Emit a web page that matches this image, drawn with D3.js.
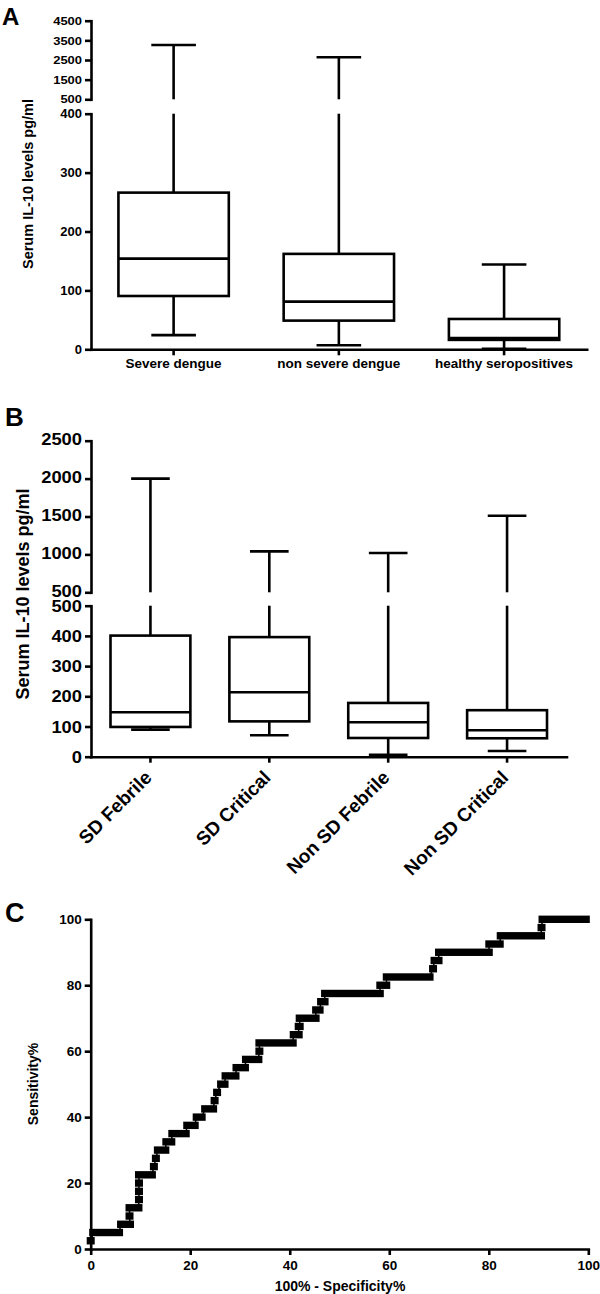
<!DOCTYPE html>
<html><head><meta charset="utf-8">
<script src="https://cdn.jsdelivr.net/npm/d3@7"></script>
<style>body{margin:0;background:#fff}svg{display:block;font-family:"Liberation Sans",Arial,sans-serif}</style>
</head><body><svg id="c" width="600" height="1294"></svg>
<script>
// ---------- Panel A data ----------
const catsA = ["Severe dengue", "non severe dengue", "healthy seropositives"];
const minA = [24, 7, 1];
const q1A = [90.5, 48.7, 16];
const medA = [154, 81, 19];
const q3A = [266, 162, 51.5];
const maxA = [3260, 2640, 144];
const ticksALow = [0, 100, 200, 300, 400];
const ticksAHigh = [500, 1500, 2500, 3500, 4500];

// ---------- Panel B data ----------
const catsB = ["SD Febrile", "SD Critical", "Non SD Febrile", "Non SD Critical"];
const minB = [89.5, 71, 6, 19];
const q1B = [98.5, 117, 62, 61];
const medB = [147, 213.5, 114, 87.5];
const q3B = [401, 396, 178, 154];
const maxB = [2000, 1040, 1018, 1509];
const ticksBLow = [0, 100, 200, 300, 400, 500];
const ticksBHigh = [500, 1000, 1500, 2000, 2500];

// ---------- Panel C data (ROC) ----------
const rocSens = [2.5,5,7.5,10,12.5,15,17.5,20,22.5,25,27.5,30,32.5,35,37.5,40,42.5,45,47.5,50,52.5,55,57.5,60,62.5,65,67.5,70,72.5,75,77.5,80,82.5,85,87.5,90,92.5,95,97.5,100];
const rocFprFrom = [0,0.5,6.1,7.8,7.8,9.7,9.7,9.7,9.7,12.7,13.1,13.5,15.2,16.4,19.4,21.3,23,24.9,25.4,26.2,27.1,29.3,31.2,33.9,33.9,40.8,41.8,42,45.3,46.3,47.1,58.2,59.5,68.8,69.1,70,80.1,82.4,90.6,90.8];
const rocFprTo = [0,5.7,7.9,7.8,9.6,9.7,9.7,9.7,12.3,12.7,13.1,15,16.2,19.1,20.9,22.3,24.6,24.9,25.4,26.9,29.1,31,33.7,33.9,40.6,41.8,42,45.2,46,47,58.1,59.4,68.1,68.8,69.9,80,82.2,90.5,90.6,99.5];
const ticksC = [0, 20, 40, 60, 80, 100];

const svg = d3.select("#c");
const LW = 2.6;

function styleAxis(g, fontSize, charW, dyShift) {
  g.selectAll(".domain").attr("stroke", "#000").attr("stroke-width", LW).attr("stroke-linecap", "square");
  g.selectAll(".tick line").attr("stroke", "#000").attr("stroke-width", LW);
  const t = g.selectAll(".tick text").attr("fill", "#000").attr("font-weight", "bold").attr("font-size", fontSize + "px").attr("font-family", "Liberation Sans, Arial, sans-serif");
  if (charW) t.attr("textLength", function () { return this.textContent.length * charW; }).attr("lengthAdjust", "spacingAndGlyphs");
  if (dyShift) t.attr("y", dyShift);
}

function boxPanel(cfg) {
  const g = svg.append("g");
  const x = d3.scaleBand().domain(cfg.cats).range(cfg.xRange).padding(0);
  const yLow = d3.scaleLinear().domain([0, cfg.lowMax]).range(cfg.lowRange);
  const yHigh = d3.scaleLinear().domain([cfg.highMin, cfg.highMax]).range(cfg.highRange);
  const y = v => v <= cfg.lowMax ? yLow(v) : yHigh(v);

  // axes
  const axL = g.append("g").attr("transform", `translate(${cfg.xRange[0]},0)`)
    .call(d3.axisLeft(yLow).tickValues(cfg.ticksLow).tickFormat(d3.format("d")).tickSize(6).tickSizeOuter(0).tickPadding(3));
  styleAxis(axL, cfg.tickFont, cfg.charW, cfg.lowShift);
  const axH = g.append("g").attr("transform", `translate(${cfg.xRange[0]},0)`)
    .call(d3.axisLeft(yHigh).tickValues(cfg.ticksHigh).tickFormat(d3.format("d")).tickSize(6).tickSizeOuter(0).tickPadding(3));
  styleAxis(axH, cfg.tickFontHigh || cfg.tickFont, cfg.charWHigh || cfg.charW, cfg.highShift);
  const axX = g.append("g").attr("transform", `translate(0,${cfg.lowRange[0]})`)
    .call(d3.axisBottom(x).tickSize(6).tickSizeOuter(0).tickFormat(""));
  styleAxis(axX, cfg.tickFont);

  // category labels
  if (cfg.rotate) {
    g.selectAll("text.cat").data(cfg.cats).join("text").attr("class", "cat")
      .attr("transform", d => `translate(${x(d) + x.bandwidth() / 2 + cfg.labDx},${cfg.lowRange[0] + cfg.labDy}) rotate(-45)`)
      .attr("text-anchor", "end").attr("font-weight", "bold").attr("font-size", cfg.catFont + "px").text(d => d);
  } else {
    g.selectAll("text.cat").data(cfg.cats).join("text").attr("class", "cat")
      .attr("x", d => x(d) + x.bandwidth() / 2).attr("y", cfg.lowRange[0] + cfg.labDy)
      .attr("text-anchor", "middle").attr("font-weight", "bold").attr("font-size", cfg.catFont + "px").text(d => d);
  }

  // boxes
  const bw = x.bandwidth() * cfg.boxFrac, cw = x.bandwidth() * cfg.capFrac;
  cfg.cats.forEach((c, i) => {
    const cx = x(c) + x.bandwidth() / 2;
    const bg = g.append("g").attr("stroke", "#000").attr("stroke-width", LW).attr("fill", "none");
    if (cfg.maxs[i] > cfg.lowMax) {
      bg.append("line").attr("x1", cx).attr("x2", cx).attr("y1", y(cfg.q3s[i])).attr("y2", yLow(cfg.lowMax));
      bg.append("line").attr("x1", cx).attr("x2", cx).attr("y1", yHigh(cfg.highMin)).attr("y2", y(cfg.maxs[i]));
    } else {
      bg.append("line").attr("x1", cx).attr("x2", cx).attr("y1", y(cfg.q3s[i])).attr("y2", y(cfg.maxs[i]));
    }
    bg.append("line").attr("x1", cx - cw / 2).attr("x2", cx + cw / 2).attr("y1", y(cfg.maxs[i])).attr("y2", y(cfg.maxs[i]));
    bg.append("line").attr("x1", cx).attr("x2", cx).attr("y1", y(cfg.q1s[i])).attr("y2", y(cfg.mins[i]));
    bg.append("line").attr("x1", cx - cw / 2).attr("x2", cx + cw / 2).attr("y1", y(cfg.mins[i])).attr("y2", y(cfg.mins[i]));
    bg.append("rect").attr("x", cx - bw / 2).attr("width", bw)
      .attr("y", y(cfg.q3s[i])).attr("height", y(cfg.q1s[i]) - y(cfg.q3s[i])).attr("fill", "#fff");
    bg.append("line").attr("x1", cx - bw / 2).attr("x2", cx + bw / 2).attr("y1", y(cfg.meds[i])).attr("y2", y(cfg.meds[i]));
  });

  g.append("text").attr("transform", `translate(${cfg.ylabX},${cfg.ylabY}) rotate(-90)`)
    .attr("text-anchor", "middle").attr("dy", "0.35em").attr("font-weight", "bold").attr("font-size", cfg.ylabFont + "px")
    .text("Serum IL-10 levels pg/ml");
}

// Panel A
boxPanel({
  cats: catsA, mins: minA, q1s: q1A, meds: medA, q3s: q3A, maxs: maxA,
  xRange: [91, 586.7], lowMax: 400, highMin: 500, highMax: 4500,
  lowRange: [349.3, 113.7], highRange: [99.3, 20.7],
  ticksLow: ticksALow, ticksHigh: ticksAHigh, tickFont: 13, tickFontHigh: 11.5, charWHigh: 7.2,
  catFont: 13.5, labDy: 18.5, rotate: false,
  boxFrac: 0.668, capFrac: 0.27,
  ylabX: 28, ylabY: 184, ylabFont: 14.5
});

// Panel B
boxPanel({
  cats: catsB, mins: minB, q1s: q1B, meds: medB, q3s: q3B, maxs: maxB,
  xRange: [91, 566.5], lowMax: 500, highMin: 500, highMax: 2500,
  lowRange: [756.7, 605.7], highRange: [592.3, 440.7],
  ticksLow: ticksBLow, ticksHigh: ticksBHigh, tickFont: 16, charW: 10.2, highShift: -1, lowShift: 0.5,
  catFont: 19, labDx: 2.5, labDy: 22, rotate: true,
  boxFrac: 0.672, capFrac: 0.325,
  ylabX: 23, ylabY: 594, ylabFont: 18
});

// Panel C
(function () {
  const g = svg.append("g");
  const x = d3.scaleLinear().domain([0, 100]).range([90.7, 588.3]);
  const y = d3.scaleLinear().domain([0, 100]).range([1249, 919.3]);
  const ax = g.append("g").attr("transform", "translate(0,1249)")
    .call(d3.axisBottom(x).tickValues(ticksC).tickSize(6).tickSizeOuter(0).tickPadding(5));
  styleAxis(ax, 13.5);
  const ay = g.append("g").attr("transform", "translate(90.7,0)")
    .call(d3.axisLeft(y).tickValues(ticksC).tickSize(6).tickSizeOuter(0).tickPadding(3));
  styleAxis(ay, 13.5);

  const pts = [];
  rocSens.forEach((s, i) => { pts.push([rocFprFrom[i], s]); pts.push([rocFprTo[i], s]); });
  g.append("path").datum([[0, 0]].concat(pts))
    .attr("d", d3.line().x(d => x(d[0])).y(d => y(d[1])))
    .attr("fill", "none").attr("stroke", "#000").attr("stroke-width", 1.5);
  g.selectAll("rect.m").data(rocSens).join("rect").attr("class", "m")
    .attr("x", (s, i) => x(rocFprFrom[i]) - 4)
    .attr("width", (s, i) => x(rocFprTo[i]) - x(rocFprFrom[i]) + 8)
    .attr("y", s => y(s) - 3.7).attr("height", 7.4).attr("fill", "#000");

  g.append("text").attr("transform", "translate(33,1084) rotate(-90)").attr("text-anchor", "middle")
    .attr("dy", "0.35em").attr("font-weight", "bold").attr("font-size", "14px").text("Sensitivity%");
  g.append("text").attr("x", 340).attr("y", 1291).attr("text-anchor", "middle")
    .attr("font-weight", "bold").attr("font-size", "14px").text("100% - Specificity%");
})();

// Panel letters
svg.append("text").attr("x", 2).attr("y", 25).attr("font-weight", "bold").attr("font-size", "24px").text("A");
svg.append("text").attr("x", 5).attr("y", 425.7).attr("font-weight", "bold").attr("font-size", "26px").text("B");
svg.append("text").attr("x", 5).attr("y", 921.7).attr("font-weight", "bold").attr("font-size", "27px").text("C");
</script>
</body></html>
